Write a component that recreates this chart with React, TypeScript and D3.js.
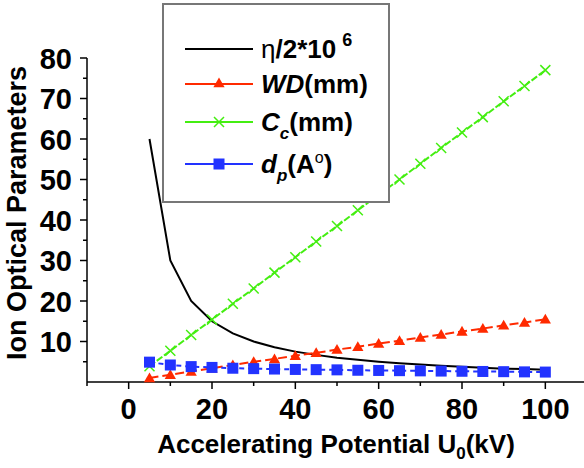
import React from 'react';
import * as d3 from 'd3';

// accelerating potential (kV)
const potential = [5, 10, 15, 20, 25, 30, 35, 40, 45, 50, 55, 60, 65, 70, 75, 80, 85, 90, 95, 100];
// eta / 2 * 10^6
const etaValues = [60, 30, 20, 15, 12, 10, 8.6, 7.5, 6.7, 6, 5.5, 5, 4.6, 4.3, 4, 3.75, 3.5, 3.3, 3.2, 3];
// working distance (mm)
const wdValues = [1, 1.8, 2.6, 3.4, 4.2, 5.0, 5.7, 6.5, 7.2, 8.0, 8.7, 9.5, 10.2, 11.0, 11.7, 12.5, 13.2, 14.0, 14.7, 15.5];
// chromatic aberration coefficient (mm)
const ccValues = [3.9, 7.7, 11.6, 15.4, 19.3, 23.1, 27, 30.8, 34.7, 38.5, 42.4, 46.2, 50, 53.9, 57.8, 61.6, 65.4, 69.3, 73.1, 77];
// probe size (A)
const dpValues = [4.9, 4.2, 3.8, 3.6, 3.4, 3.3, 3.2, 3.1, 3.05, 3.0, 2.9, 2.85, 2.8, 2.75, 2.7, 2.65, 2.6, 2.55, 2.5, 2.45];

const xTicks = [0, 20, 40, 60, 80, 100];
const xMinor = [-10, 10, 30, 50, 70, 90, 110];
const yTicks = [10, 20, 30, 40, 50, 60, 70, 80];
const yMinor = [5, 15, 25, 35, 45, 55, 65, 75];

const W = 584;
const H = 468;
const FONT = "'Liberation Sans', Arial, sans-serif";

const x = d3.scaleLinear().domain([-10, 110]).range([87, 587]);
const y = d3.scaleLinear().domain([0, 80]).range([382, 58]);

const pts = (vals: number[]) => potential.map((p, i) => [p, vals[i]] as [number, number]);
const line = d3.line<[number, number]>().x((d) => x(d[0])).y((d) => y(d[1]));

const triangle = d3.symbol().type(d3.symbolTriangle).size(55)()!;

const Tri = ({ cx, cy }: { cx: number; cy: number }) => (
  <path d={triangle} transform={`translate(${cx},${cy + 1})`} fill="#ff2a00" />
);
const Cross = ({ cx, cy }: { cx: number; cy: number }) => (
  <path
    d={`M${cx - 5},${cy - 5}L${cx + 5},${cy + 5}M${cx - 5},${cy + 5}L${cx + 5},${cy - 5}`}
    stroke="#44ee11"
    strokeWidth={1.5}
    fill="none"
  />
);
const Sq = ({ cx, cy }: { cx: number; cy: number }) => (
  <rect x={cx - 5.5} y={cy - 5.5} width={11} height={11} fill="#2233ff" />
);

export default function App() {
  const legendRows = [45, 84, 122, 164];
  const lx0 = 185;
  const lx1 = 253;
  const lm = (lx0 + lx1) / 2;
  return (
    <svg width={W} height={H} style={{ position: 'absolute', left: 0, top: 0, background: '#fff' }} fontFamily={FONT}>
      {/* axes */}
      <line x1={x(-10)} x2={x(110)} y1={y(0)} y2={y(0)} stroke="#000" strokeWidth={1.5} />
      <line x1={x(-10)} x2={x(-10)} y1={y(0)} y2={y(80)} stroke="#000" strokeWidth={1.5} />
      {xTicks.map((t) => (
        <g key={'xt' + t}>
          <line x1={x(t)} x2={x(t)} y1={y(0)} y2={y(0) + 7} stroke="#000" strokeWidth={1.5} />
          <text x={x(t)} y={419} textAnchor="middle" fontSize={29} fontWeight="bold">{t}</text>
        </g>
      ))}
      {xMinor.map((t) => (
        <line key={'xm' + t} x1={x(t)} x2={x(t)} y1={y(0)} y2={y(0) + 4} stroke="#000" strokeWidth={1.5} />
      ))}
      {yTicks.map((t) => (
        <g key={'yt' + t}>
          <line x1={x(-10) - 7} x2={x(-10)} y1={y(t)} y2={y(t)} stroke="#000" strokeWidth={1.5} />
          <text x={72} y={y(t) + 10.5} textAnchor="end" fontSize={29} fontWeight="bold">{t}</text>
        </g>
      ))}
      {yMinor.map((t) => (
        <line key={'ym' + t} x1={x(-10) - 4} x2={x(-10)} y1={y(t)} y2={y(t)} stroke="#000" strokeWidth={1.5} />
      ))}
      <text x={336} y={453} textAnchor="middle" fontSize={26} fontWeight="bold">
        Accelerating Potential U<tspan fontSize={17} dy={6}>0</tspan>
        <tspan dy={-6}>(kV)</tspan>
      </text>
      <text transform="translate(26,213) rotate(-90)" textAnchor="middle" fontSize={27} fontWeight="bold">
        Ion Optical Parameters
      </text>

      {/* series */}
      <path d={line(pts(etaValues))!} fill="none" stroke="#000" strokeWidth={2} />
      <path d={line(pts(wdValues))!} fill="none" stroke="#ff2a00" strokeWidth={2} strokeDasharray="9,4" />
      <path d={line(pts(ccValues))!} fill="none" stroke="#44ee11" strokeWidth={2} strokeDasharray="7,2" />
      <path d={line(pts(dpValues))!} fill="none" stroke="#2233ff" strokeWidth={2} strokeDasharray="5,4" />
      {pts(wdValues).map((d, i) => <Tri key={'w' + i} cx={x(d[0])} cy={y(d[1])} />)}
      {pts(ccValues).map((d, i) => <Cross key={'c' + i} cx={x(d[0])} cy={y(d[1])} />)}
      {pts(dpValues).map((d, i) => <Sq key={'d' + i} cx={x(d[0])} cy={y(d[1])} />)}

      {/* legend */}
      <rect x={163} y={4} width={226} height={198} fill="#fff" stroke="#777" strokeWidth={2} />
      <line x1={lx0} x2={lx1} y1={legendRows[0] + 4} y2={legendRows[0] + 4} stroke="#000" strokeWidth={2} />
      <text x={261} y={legendRows[0] + 13} fontSize={26} fontWeight="bold">
        <tspan fontWeight="normal">η</tspan>/2*10
        <tspan fontSize={18} dy={-12} dx={6}>6</tspan>
      </text>
      <line x1={lx0} x2={lx1} y1={legendRows[1]} y2={legendRows[1]} stroke="#ff2a00" strokeWidth={2} />
      <Tri cx={lm} cy={legendRows[1] - 1} />
      <text x={261} y={legendRows[1] + 9} fontSize={26} fontWeight="bold">
        <tspan fontStyle="italic">WD</tspan>(mm)
      </text>
      <line x1={lx0} x2={lx1} y1={legendRows[2]} y2={legendRows[2]} stroke="#44ee11" strokeWidth={2} />
      <Cross cx={lm} cy={legendRows[2]} />
      <text x={261} y={legendRows[2] + 9} fontSize={26} fontWeight="bold">
        <tspan fontStyle="italic">C</tspan>
        <tspan fontStyle="italic" fontSize={17} dy={8}>c</tspan>
        <tspan dy={-8}>(mm)</tspan>
      </text>
      <line x1={lx0} x2={lx1} y1={legendRows[3]} y2={legendRows[3]} stroke="#2233ff" strokeWidth={2} />
      <Sq cx={lm} cy={legendRows[3]} />
      <text x={261} y={legendRows[3] + 9} fontSize={26} fontWeight="bold">
        <tspan fontStyle="italic">d</tspan>
        <tspan fontStyle="italic" fontSize={17} dy={8}>p</tspan>
        <tspan dy={-8}>(A</tspan>
        <tspan fontSize={16} fontWeight="normal" dy={-10}>o</tspan>
        <tspan dy={10}>)</tspan>
      </text>
    </svg>
  );
}
